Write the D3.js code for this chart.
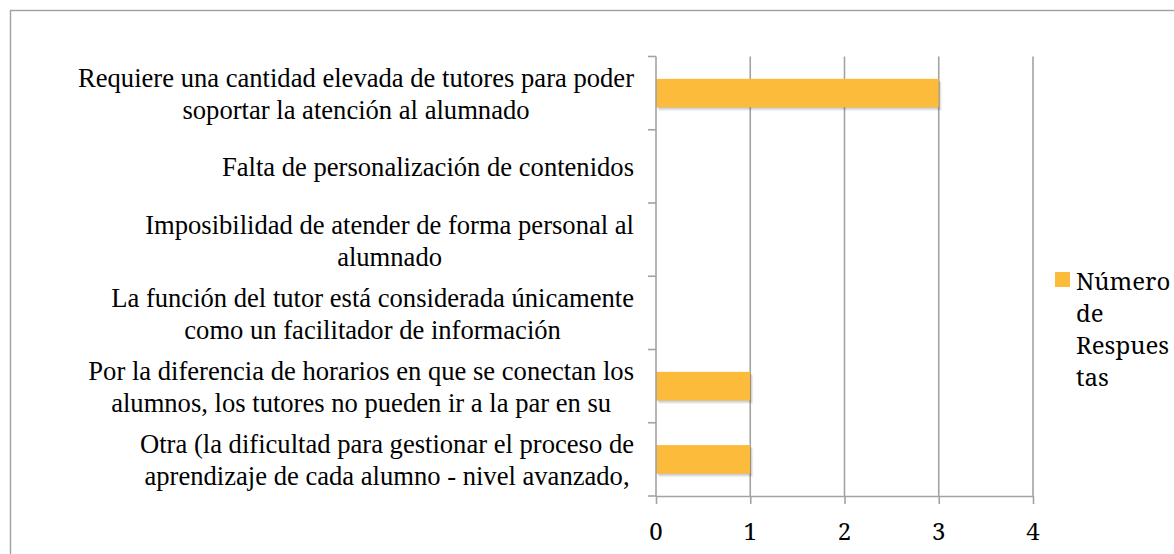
<!DOCTYPE html>
<html>
<head>
<meta charset="utf-8">
<script src="https://cdn.jsdelivr.net/npm/d3@7/dist/d3.min.js"></script>
</head>
<body style="margin:0">
<svg id="chart" width="1174" height="554" font-family="Liberation Serif"></svg>
<script>
// Categories (top to bottom), each split into the lines shown on the axis
const categoryLines = [
  ["Requiere una cantidad elevada de tutores para poder", "soportar la atención al alumnado"],
  ["Falta de personalización de contenidos"],
  ["Imposibilidad de atender de forma personal al", "alumnado"],
  ["La función del tutor está considerada únicamente", "como un facilitador de información"],
  ["Por la diferencia de horarios en que se conectan los", "alumnos, los tutores no pueden ir a la par en su"],
  ["Otra (la dificultad para gestionar el proceso de", "aprendizaje de cada alumno - nivel avanzado,"]
];
const categories = categoryLines.map(l => l.join(" "));
const respuestas = [3, 0, 0, 0, 1, 1];
const xTicks = [0, 1, 2, 3, 4];
const seriesName = "Número de Respuestas";
const legendLines = ["Número", "de", "Respues", "tas"];

const svg = d3.select("#chart");
const gridColor = "#a3a3a3";
const barColor = "#FDBB3B";

// Outer chart frame
svg.append("rect")
  .attr("x", 10.5).attr("y", 10.5)
  .attr("width", 1200).attr("height", 600)
  .attr("fill", "none").attr("stroke", "#a0a0a0").attr("stroke-width", 1.4);

const plot = { left: 656, right: 1033, top: 56.5, bottom: 496 };

const x = d3.scaleLinear().domain([0, 4]).range([plot.left, plot.right]);
const y = d3.scaleBand().domain(categories).range([plot.top, plot.bottom])
  .paddingInner(0.61).paddingOuter(0.305);
const step = y.step();
const bandTop = d => y(d) - step * y.paddingInner() / 2;

// Vertical gridlines
svg.append("g").selectAll("line").data(xTicks.filter(t => t > 0)).join("line")
  .attr("x1", d => x(d)).attr("x2", d => x(d))
  .attr("y1", plot.top).attr("y2", plot.bottom)
  .attr("stroke", gridColor).attr("stroke-width", 1.6);

// Bars with a soft offset shadow
const barData = categories.map((c, i) => ({ c, v: respuestas[i] })).filter(d => d.v > 0);
const shadowG = svg.append("g");
[[1, 1, 0.10], [2, 2.5, 0.08], [3, 3.5, 0.05]].forEach(([dx, dy, op]) => {
  shadowG.append("g").selectAll("rect").data(barData).join("rect")
    .attr("x", x(0) + dx).attr("y", d => y(d.c) + dy)
    .attr("width", d => x(d.v) - x(0)).attr("height", y.bandwidth())
    .attr("fill", "#000").attr("fill-opacity", op);
});
svg.append("g").selectAll("rect").data(barData).join("rect")
  .attr("x", x(0)).attr("y", d => y(d.c))
  .attr("width", d => x(d.v) - x(0)).attr("height", y.bandwidth())
  .attr("fill", barColor);

// Bottom axis (domain line, ticks) drawn by d3; labels drawn separately below
const xAxis = svg.append("g").attr("transform", `translate(0,${plot.bottom})`)
  .call(d3.axisBottom(x).tickValues(xTicks).tickSize(8).tickSizeOuter(0).tickFormat(""));
xAxis.select(".domain").attr("stroke", gridColor).attr("stroke-width", 1.6);
xAxis.selectAll(".tick line").attr("stroke", gridColor).attr("stroke-width", 1.6);
xTicks.forEach(t => {
  svg.append("text")
    .attr("font-family", "Noto Serif").style("font-family", '"Noto Serif"').style("font-size", "24px")
    .attr("text-anchor", "middle")
    .attr("x", x(t)).attr("y", plot.bottom + 44)
    .text(String(t));
});

// Left axis: line with ticks at category boundaries
const boundaries = categories.map(bandTop).concat([plot.bottom]);
svg.append("line")
  .attr("x1", plot.left).attr("x2", plot.left)
  .attr("y1", plot.top).attr("y2", plot.bottom)
  .attr("stroke", gridColor).attr("stroke-width", 1.6);
svg.append("g").selectAll("line").data(boundaries).join("line")
  .attr("x1", plot.left - 8).attr("x2", plot.left)
  .attr("y1", d => d).attr("y2", d => d)
  .attr("stroke", gridColor).attr("stroke-width", 1.6);

// Category labels: each block centred on its widest line, right-aligned to the axis
const labelRight = 634;
const lineH = 32;
categories.forEach((c, i) => {
  const lines = categoryLines[i];
  const center = y(c) + y.bandwidth() / 2;
  const texts = lines.map((ln, j) =>
    svg.append("text")
      .attr("font-family", "Liberation Serif").style("font-family", '"Liberation Serif"').style("font-size", "26.6px")
      .attr("y", center + 10 + (j - (lines.length - 1) / 2) * lineH)
      .text(ln));
  const w = d3.max(texts, t => t.node().getComputedTextLength());
  texts.forEach(t => t.attr("x", labelRight - w / 2).attr("text-anchor", "middle"));
});

// Legend
svg.append("rect")
  .attr("x", 1055).attr("y", 272).attr("width", 15).attr("height", 15)
  .attr("fill", barColor)
  .append("title").text(seriesName);
legendLines.forEach((ln, i) =>
  svg.append("text")
    .attr("font-family", "Noto Serif").style("font-family", '"Noto Serif"').style("font-size", "24px")
    .attr("x", 1076).attr("y", 290 + i * 32)
    .text(ln));
</script>
</body>
</html>
